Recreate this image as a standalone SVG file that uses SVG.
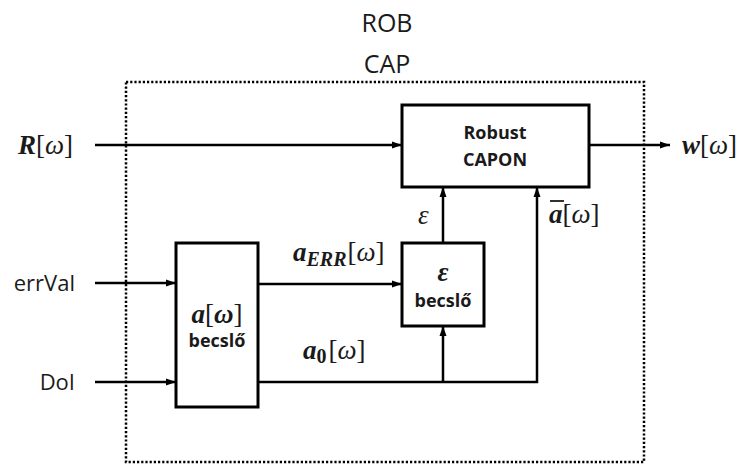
<svg xmlns="http://www.w3.org/2000/svg" width="742" height="464" viewBox="0 0 742 464">
<defs>
<marker id="arr" markerUnits="userSpaceOnUse" markerWidth="10" markerHeight="10" viewBox="0 0 10 10" refX="10" refY="5" orient="auto">
<path d="M0,1.5 L10,5 L0,8.5 Z" fill="#000"/>
</marker>
</defs>
<style>
.box{fill:#fff;stroke:#000;stroke-width:3}
.ln{fill:none;stroke:#000;stroke-width:2.5}
.lbl{font-family:"Open Sans","Liberation Sans",sans-serif;font-size:22px;fill:#1a1a1a}
.big{font-size:25px}
.bt{font-family:"Open Sans","Liberation Sans",sans-serif;font-size:18px;font-weight:bold;fill:#1a1a1a;text-anchor:middle}
.m{font-family:"Liberation Serif","DejaVu Serif",serif;font-size:27px;fill:#1a1a1a}
.mb{font-weight:bold;font-style:italic}
.mi{font-style:italic}
.sub{font-size:20px}
</style>
<rect x="126" y="82" width="518" height="380" fill="none" stroke="#000" stroke-width="2.5" stroke-dasharray="2.2 2"/>
<text class="lbl big" x="387" y="32" text-anchor="middle">ROB</text>
<text class="lbl big" x="387" y="73" text-anchor="middle">CAP</text>
<g id="inputs">
<text class="m" x="18" y="154"><tspan class="mb">R</tspan>[<tspan class="mi">ω</tspan>]</text>
<text class="lbl" x="75" y="291" text-anchor="end">errVal</text>
<text class="lbl" x="75" y="390" text-anchor="end">DoI</text>
</g>
<g id="robust-capon">
<rect class="box" x="402" y="105" width="187" height="82"/>
<text class="bt" x="495" y="139">Robust</text>
<text class="bt" x="495" y="166">CAPON</text>
</g>
<g id="a-becslo">
<rect class="box" x="176" y="243" width="82" height="164"/>
<text class="m" x="217" y="323" text-anchor="middle"><tspan class="mb">a</tspan>[<tspan class="mb">ω</tspan>]</text>
<text class="bt" x="217" y="347">becslő</text>
</g>
<g id="eps-becslo">
<rect class="box" x="402" y="243" width="82" height="83"/>
<text class="m" x="443" y="281" text-anchor="middle"><tspan class="mb">ε</tspan></text>
<text class="bt" x="443" y="307">becslő</text>
</g>
<g id="output">
<text class="m" x="682" y="154"><tspan class="mb">w</tspan>[<tspan class="mi">ω</tspan>]</text>
</g>
<g id="connectors">
<line class="ln" x1="95" y1="145" x2="402" y2="145" marker-end="url(#arr)"/>
<line class="ln" x1="589" y1="145" x2="670" y2="145" marker-end="url(#arr)"/>
<line class="ln" x1="95" y1="283" x2="176" y2="283" marker-end="url(#arr)"/>
<line class="ln" x1="95" y1="382" x2="176" y2="382" marker-end="url(#arr)"/>
<line class="ln" x1="258" y1="284" x2="402" y2="284" marker-end="url(#arr)"/>
<polyline class="ln" points="258,382 537,382 537,187" marker-end="url(#arr)"/>
<line class="ln" x1="443" y1="382" x2="443" y2="326" marker-end="url(#arr)"/>
<line class="ln" x1="443" y1="243" x2="443" y2="187" marker-end="url(#arr)"/>
<text class="m" x="293" y="261"><tspan class="mb">a</tspan><tspan class="mb sub" dy="5">ERR</tspan><tspan dy="-5" dx="1">[</tspan><tspan class="mi">ω</tspan>]</text>
<text class="m" x="303" y="359"><tspan class="mb">a</tspan><tspan class="sub" font-weight="bold" dy="4">0</tspan><tspan dy="-4" dx="2">[</tspan><tspan class="mi">ω</tspan>]</text>
<text class="m mi" x="418" y="224">ε</text>
<text class="m" x="549" y="223"><tspan class="mb">a</tspan>[<tspan class="mi">ω</tspan>]</text>
<line x1="550" y1="201" x2="564" y2="201" stroke="#1a1a1a" stroke-width="1.8"/>
</g>
</svg>
